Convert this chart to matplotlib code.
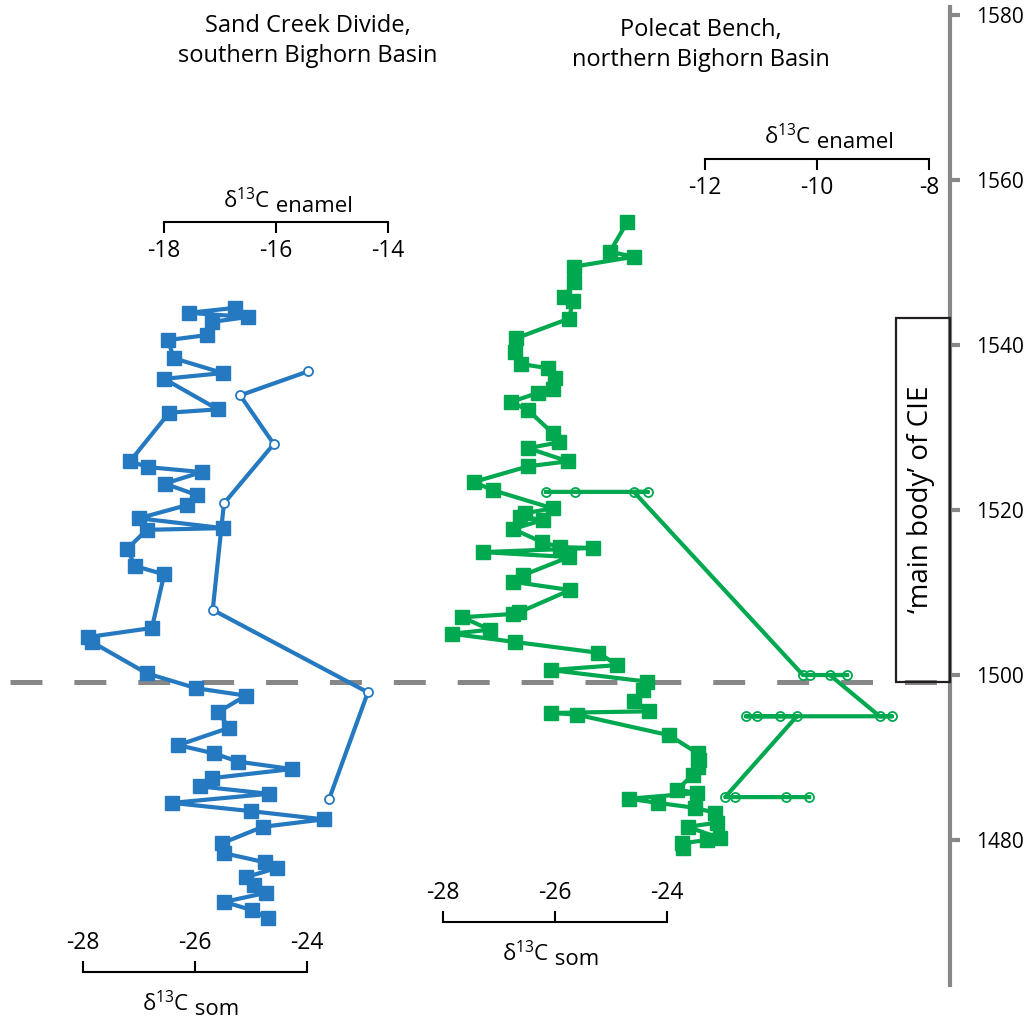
import matplotlib
matplotlib.use('Agg')
import matplotlib.pyplot as plt
from matplotlib.patches import Rectangle

plt.rcParams['font.family'] = ['Open Sans', 'DejaVu Sans']
plt.rcParams['mathtext.fontset'] = 'custom'
plt.rcParams['mathtext.rm'] = 'Open Sans'
plt.rcParams['mathtext.default'] = 'regular'
plt.rcParams['axes.unicode_minus'] = False
plt.rcParams['lines.scale_dashes'] = False

# stratigraphic level (m) and d13C values
blue_som_m = [1544.5, 1543.9, 1543.4, 1542.8, 1541.2, 1540.6, 1538.4, 1536.6, 1535.9, 1532.2,
              1531.8, 1525.9, 1525.2, 1524.6, 1523.2, 1521.8, 1520.6, 1519.0, 1517.8, 1517.6,
              1515.3, 1513.2, 1512.2, 1505.7, 1504.6, 1504.0, 1500.2, 1498.4, 1497.5, 1495.5,
              1493.6, 1491.5, 1490.5, 1489.5, 1488.6, 1487.5, 1486.5, 1485.6, 1484.5, 1483.5,
              1482.5, 1481.6, 1479.6, 1478.4, 1477.3, 1476.6, 1475.5, 1474.5, 1473.6, 1472.5,
              1471.5, 1470.5]
blue_som_d = [-25.29, -26.11, -25.05, -25.70, -25.79, -26.48, -26.38, -25.50, -26.55, -25.59,
              -26.46, -27.16, -26.84, -25.88, -26.54, -25.96, -26.14, -27.00, -25.50, -26.86,
              -27.21, -27.07, -26.55, -26.77, -27.91, -27.84, -26.86, -25.98, -25.09, -25.59,
              -25.39, -26.30, -25.66, -25.23, -24.27, -25.70, -25.91, -24.68, -26.41, -25.00,
              -23.70, -24.79, -25.52, -25.48, -24.75, -24.54, -25.09, -24.95, -24.73, -25.48,
              -24.98, -24.70]

blue_en_m = [1536.8, 1533.9, 1528.0, 1520.8, 1507.9, 1497.9, 1485.0]
blue_en_d = [-15.43, -16.64, -16.04, -16.93, -17.13, -14.36, -15.05]

green_som_m = [1554.9, 1551.3, 1550.7, 1549.5, 1547.6, 1545.8, 1545.3, 1543.2, 1540.8, 1539.2,
               1537.7, 1537.2, 1536.0, 1534.7, 1534.2, 1533.1, 1532.1, 1529.3, 1528.2, 1527.5,
               1525.9, 1525.3, 1523.4, 1522.4, 1520.2, 1519.6, 1519.2, 1518.8, 1517.7, 1516.1,
               1515.5, 1515.4, 1514.9, 1514.3, 1512.1, 1511.3, 1510.3, 1507.6, 1507.4, 1507.0,
               1505.5, 1505.0, 1504.0, 1502.7, 1501.2, 1500.6, 1499.2, 1498.2, 1496.8, 1495.6,
               1495.4, 1495.2, 1492.7, 1490.5, 1489.7, 1488.8, 1487.9, 1486.1, 1485.7, 1485.0,
               1484.5, 1483.9, 1483.3, 1482.1, 1481.6, 1480.2, 1480.0, 1479.6, 1479.0]
green_som_d = [-24.71, -25.02, -24.59, -25.66, -25.66, -25.84, -25.68, -25.75, -26.70, -26.71,
               -26.61, -26.13, -26.00, -26.04, -26.30, -26.79, -26.48, -26.04, -25.93, -26.48,
               -25.77, -26.48, -27.45, -27.11, -26.04, -26.54, -26.63, -26.21, -26.75, -26.23,
               -25.91, -25.32, -27.29, -25.75, -26.57, -26.75, -25.73, -26.64, -26.75, -27.66,
               -27.16, -27.84, -26.71, -25.23, -24.89, -26.07, -24.36, -24.43, -24.59, -24.32,
               -26.07, -25.61, -23.96, -23.45, -23.43, -23.45, -23.54, -23.82, -23.46, -24.68,
               -24.16, -23.50, -23.14, -23.11, -23.63, -23.05, -23.29, -23.73, -23.71]

green_en_m = [1522.2, 1522.2, 1522.2, 1522.2, 1500.0, 1500.0, 1500.0, 1500.0,
              1495.0, 1495.0, 1495.0, 1495.0, 1495.0, 1495.0, 1485.2, 1485.2, 1485.2, 1485.2]
green_en_d = [-14.84, -14.32, -13.02, -13.27, -10.25, -10.13, -9.46, -9.77,
              -8.88, -8.66, -11.27, -11.07, -10.66, -10.36, -11.64, -11.46, -10.55, -10.14]

level_ticks = [1480, 1500, 1520, 1540, 1560, 1580]
cie_base = 1499.2
cie_top = 1543.3

BLUE = '#2479C1'
GREEN = '#00A84F'
GRAY = '#878787'

fig = plt.figure(figsize=(10.24, 10.23), dpi=100)
ax = fig.add_axes([0, 0, 1, 1])
ax.set_xlim(0, 1024)
ax.set_ylim(1457.82, 1581.82)
ax.patch.set_visible(False)
for s in ['left', 'top', 'bottom']:
    ax.spines[s].set_visible(False)
ax.spines['right'].set_position(('data', 950))
ax.spines['right'].set_bounds(1462.4, 1581.0)
ax.spines['right'].set_color(GRAY)
ax.spines['right'].set_linewidth(3)
ax.set_xticks([])
ax.yaxis.set_ticks_position('right')
ax.set_yticks(level_ticks)
ax.tick_params(axis='y', direction='out', length=7, width=3, color=GRAY,
               labelsize=15, pad=12)

# dashed CIE onset line and box
ax.plot([10, 938], [cie_base, cie_base], color=GRAY, lw=3.6, dashes=(23, 23), zorder=1)
ax.add_patch(Rectangle((896, cie_base), 54, cie_top - cie_base, fill=False,
                       ec='#231F20', lw=1.6, zorder=3))
ax.text(921, (cie_base + cie_top) / 2, '\u2018main body\u2019 of CIE', rotation=90,
        ha='center', va='center', fontsize=20)

fig.text(308 / 1024, 1 - 41 / 1023, 'Sand Creek Divide,\nsouthern Bighorn Basin',
         ha='center', va='center', fontsize=17, linespacing=1.3)
fig.text(701 / 1024, 1 - 45 / 1023, 'Polecat Bench,\nnorthern Bighorn Basin',
         ha='center', va='center', fontsize=17, linespacing=1.3)


def scale_axis(xlim, ticks, spine, level, title_y, sub):
    tw = ax.twiny()
    tw.set_xlim(*xlim)
    tw.set_ylim(ax.get_ylim())
    for s in tw.spines.values():
        s.set_visible(False)
    sp = tw.spines[spine]
    sp.set_visible(True)
    sp.set_position(('data', level))
    sp.set_bounds(ticks[0], ticks[-1])
    sp.set_linewidth(1.5)
    if spine == 'top':
        tw.xaxis.set_ticks_position('top')
    else:
        tw.xaxis.set_ticks_position('bottom')
    tw.set_xticks(ticks, ['%d' % t for t in ticks])
    tw.tick_params(axis='x', direction='out', length=8, width=1.5, labelsize=16.5, pad=4)
    mid = (ticks[0] + ticks[-1]) / 2
    tw.annotate('\u03b4$^{13}$C', (mid, title_y), xytext=(-4, 0), textcoords='offset points',
                ha='right', va='baseline', fontsize=16)
    tw.annotate(' ' + sub, (mid, title_y), xytext=(-4, -2.5), textcoords='offset points',
                ha='left', va='baseline', fontsize=16)
    return tw


ax_bs = scale_axis((-29.482, -11.196), [-28, -26, -24], 'top', 1464.04, 1459.2, 'som')
ax_be = scale_axis((-20.929, -2.643), [-18, -16, -14], 'bottom', 1554.87, 1556.6, 'enamel')
ax_gs = scale_axis((-35.911, -17.625), [-28, -26, -24], 'top', 1470.1, 1465.3, 'som')
ax_ge = scale_axis((-24.589, -6.303), [-12, -10, -8], 'bottom', 1562.5, 1564.3, 'enamel')

ax_bs.plot(blue_som_d, blue_som_m, color=BLUE, lw=3, marker='s', ms=9.5, zorder=4)
ax_be.plot(blue_en_d, blue_en_m, color=BLUE, lw=3, zorder=4)
ax_be.plot(blue_en_d, blue_en_m, ls='none', marker='o', ms=6.5, mfc='white', mec=BLUE,
           mew=1.3, zorder=5)
ax_gs.plot(green_som_d, green_som_m, color=GREEN, lw=3, marker='s', ms=9.5, zorder=4)
ax_ge.plot(green_en_d, green_en_m, ls='none', marker='o', ms=6.5, mfc='white', mec=GREEN,
           mew=1.3, zorder=4)
ax_ge.plot(green_en_d, green_en_m, color=GREEN, lw=3, zorder=5)

fig.savefig('out.png', dpi=100)
